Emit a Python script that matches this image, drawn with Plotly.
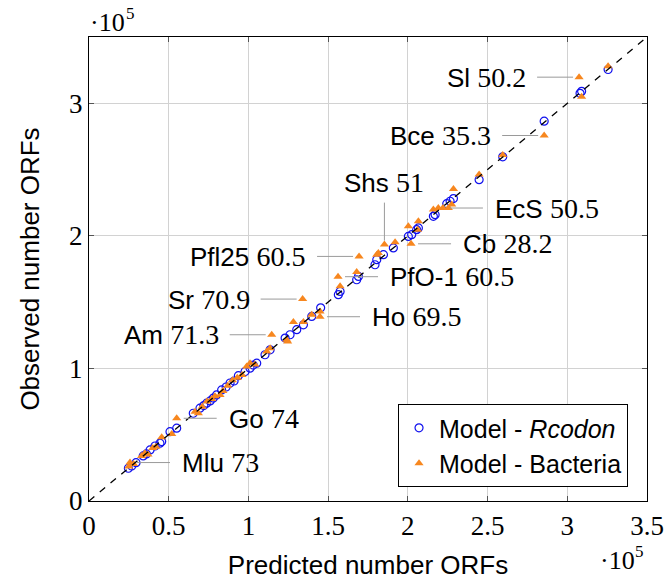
import plotly.graph_objects as go

# ---- data (units of 1e5 ORFs) ----
rcodon_pred = [0.247, 0.268, 0.295, 0.34, 0.36, 0.383, 0.414, 0.445, 0.456, 0.508, 0.55, 0.654, 0.696, 0.72,
               0.738, 0.76, 0.78, 0.80, 0.832, 0.86, 0.885, 0.91, 0.937, 0.979, 1.01, 1.03, 1.052, 1.104,
               1.136, 1.23, 1.261, 1.303, 1.345, 1.397, 1.453, 1.564, 1.575, 1.679, 1.69, 1.794, 1.805,
               1.847, 1.909, 2.003, 2.024, 2.055, 2.066, 2.16, 2.171, 2.244, 2.265, 2.286, 2.447, 2.595,
               2.855, 3.08, 3.09, 3.256]
rcodon_obs = [0.247, 0.264, 0.289, 0.34, 0.355, 0.385, 0.415, 0.436, 0.448, 0.523, 0.549, 0.662, 0.70, 0.72,
              0.738, 0.755, 0.776, 0.80, 0.838, 0.86, 0.89, 0.905, 0.945, 0.977, 1.002, 1.025, 1.04, 1.103,
              1.14, 1.229, 1.254, 1.292, 1.329, 1.392, 1.457, 1.556, 1.581, 1.669, 1.694, 1.782, 1.82,
              1.858, 1.909, 1.996, 2.009, 2.047, 2.06, 2.147, 2.16, 2.243, 2.261, 2.281, 2.424, 2.596,
              2.865, 3.075, 3.09, 3.255]

bact_pred = [0.25, 0.257, 0.28, 0.33, 0.35, 0.37, 0.40, 0.42, 0.456, 0.519, 0.55, 0.665, 0.686, 0.71, 0.74,
             0.77, 0.79, 0.822, 0.84, 0.87, 0.90, 0.93, 0.96, 0.989, 1.01, 1.04, 1.115, 1.136, 1.146, 1.24,
             1.246, 1.282, 1.345, 1.34, 1.397, 1.449, 1.449, 1.562, 1.575, 1.679, 1.694, 1.805, 1.815,
             1.853, 1.92, 2.003, 2.02, 2.061, 2.066, 2.16, 2.191, 2.22, 2.254, 2.275, 2.286, 2.447, 2.595,
             2.855, 3.074, 3.09, 3.256]
bact_obs = [0.26, 0.29, 0.28, 0.34, 0.36, 0.35, 0.40, 0.41, 0.481, 0.506, 0.624, 0.674, 0.662, 0.71, 0.75,
            0.77, 0.79, 0.80, 0.83, 0.87, 0.91, 0.93, 0.95, 1.014, 1.04, 1.03, 1.128, 1.153, 1.254, 1.216,
            1.203, 1.35, 1.35, 1.523, 1.405, 1.39, 1.43, 1.692, 1.619, 1.727, 1.845, 1.858, 1.87,
            1.934, 1.951, 2.072, 1.94, 2.047, 2.11, 2.198, 2.211, 2.21, 2.211, 2.236, 2.354, 2.462, 2.61,
            2.757, 3.197, 3.05, 3.28]

label_names = ["Sl", "Bce", "Shs", "EcS", "Cb", "Pfl25", "PfO-1", "Sr", "Ho", "Am", "Go", "Mlu"]
label_values = ["50.2", "35.3", "51", "50.5", "28.2", "60.5", "60.5", "70.9", "69.5", "71.3", "74", "73"]
label_x = [3.074, 2.855, 1.853, 2.22, 2.02, 1.694, 1.562, 1.34, 1.449, 1.146, 0.55, 0.257]
label_y = [3.197, 2.757, 1.934, 2.21, 1.94, 1.845, 1.692, 1.523, 1.39, 1.254, 0.624, 0.29]
label_side = ["left", "left", "up", "right", "right", "left", "right", "left", "right", "left", "right", "right"]

x_ticks = [0, 0.5, 1, 1.5, 2, 2.5, 3, 3.5]
y_ticks = [0, 1, 2, 3]
diag = [0, 3.5]

SANS = "Liberation Sans"
SERIF = "Liberation Serif"
BLUE = "#1010ee"
ORANGE = "#f7871f"

fig = go.Figure()
fig.add_trace(go.Scatter(x=rcodon_pred, y=rcodon_obs, mode="markers", name="Model - <i>Rcodon</i>",
                         marker=dict(symbol="circle-open", size=8, color=BLUE, line=dict(width=1.2, color=BLUE))))
fig.add_trace(go.Scatter(x=bact_pred, y=bact_obs, mode="markers", name="Model - Bacteria",
                         marker=dict(symbol="triangle-up", size=8, color=ORANGE, line=dict(width=0))))
fig.add_trace(go.Scatter(x=diag, y=diag, mode="lines", showlegend=False, hoverinfo="skip",
                         line=dict(color="black", width=1.3, dash="7px,7px")))

shapes = []
annotations = []
for name, val, lx, ly, side in zip(label_names, label_values, label_x, label_y, label_side):
    txt = f"{name} <span style='font-family:{SERIF};font-size:28px'>{val}</span>"
    if side == "left":
        shapes.append(dict(type="line", xref="x", yref="y", xsizemode="pixel", ysizemode="pixel",
                           xanchor=lx, yanchor=ly, x0=-6, x1=-42, y0=0, y1=0,
                           line=dict(color="#9a9a9a", width=1)))
        annotations.append(dict(x=lx, y=ly, xref="x", yref="y", text=txt, showarrow=False,
                                xanchor="right", yanchor="middle", xshift=-52, borderpad=0,
                                font=dict(family=SANS, size=26, color="black")))
    elif side == "right":
        shapes.append(dict(type="line", xref="x", yref="y", xsizemode="pixel", ysizemode="pixel",
                           xanchor=lx, yanchor=ly, x0=7, x1=40, y0=0, y1=0,
                           line=dict(color="#9a9a9a", width=1)))
        annotations.append(dict(x=lx, y=ly, xref="x", yref="y", text=txt, showarrow=False,
                                xanchor="left", yanchor="middle", xshift=51, borderpad=0,
                                font=dict(family=SANS, size=26, color="black")))
    else:
        shapes.append(dict(type="line", xref="x", yref="y", xsizemode="pixel", ysizemode="pixel",
                           xanchor=lx, yanchor=ly, x0=0, x1=0, y0=4, y1=42,
                           line=dict(color="#9a9a9a", width=1)))
        annotations.append(dict(x=lx, y=ly, xref="x", yref="y", text=txt, showarrow=False,
                                xanchor="center", yanchor="middle", yshift=62, borderpad=0,
                                font=dict(family=SANS, size=26, color="black")))

# axis multipliers (·10^5) at the top of the y axis and the end of the x axis
mult_font = dict(family=SERIF, size=26, color="black")
exp_font = dict(family=SERIF, size=17, color="black")
annotations += [
    dict(x=0, y=1, xref="paper", yref="paper", text="·10", showarrow=False, xanchor="left",
         yanchor="middle", xshift=0, yshift=15, font=mult_font, borderpad=0),
    dict(x=0, y=1, xref="paper", yref="paper", text="5", showarrow=False, xanchor="left",
         yanchor="middle", xshift=36, yshift=24, font=exp_font, borderpad=0),
    dict(x=1, y=0, xref="paper", yref="paper", text="·10", showarrow=False, xanchor="right",
         yanchor="middle", xshift=-11, yshift=-59, font=mult_font, borderpad=0),
    dict(x=1, y=0, xref="paper", yref="paper", text="5", showarrow=False, xanchor="right",
         yanchor="middle", xshift=-2, yshift=-50, font=exp_font, borderpad=0),
]

axis_common = dict(range=[0, 3.5], showgrid=True, gridcolor="#d2d2d2", gridwidth=1, zeroline=False,
                   showline=True, linecolor="black", linewidth=1.2, mirror="ticks", ticks="inside",
                   ticklen=5, tickcolor="#555", automargin=False,
                   tickfont=dict(family=SERIF, size=27, color="black"))

fig.update_layout(
    width=672, height=582,
    margin=dict(l=89, r=25, t=37, b=81),
    paper_bgcolor="white", plot_bgcolor="white",
    xaxis=dict(**axis_common, tickvals=x_ticks, ticktext=[f"{v:g}" for v in x_ticks],
               title=dict(text="Predicted number ORFs", font=dict(family=SANS, size=26, color="black"), standoff=16)),
    yaxis=dict(**axis_common, tickvals=y_ticks, ticktext=[f"{v:g}" for v in y_ticks],
               title=dict(text="Observed number ORFs", font=dict(family=SANS, size=26, color="black"), standoff=21)),
    legend=dict(x=0.966, y=0.03, xanchor="right", yanchor="bottom", bgcolor="white",
                bordercolor="black", borderwidth=1, font=dict(family=SANS, size=25, color="black"),
                itemwidth=30, tracegroupgap=0),
    shapes=shapes, annotations=annotations, showlegend=True,
)

fig.write_html("out.html", config={"displayModeBar": False},
               post_script="document.body.style.margin='0';")
